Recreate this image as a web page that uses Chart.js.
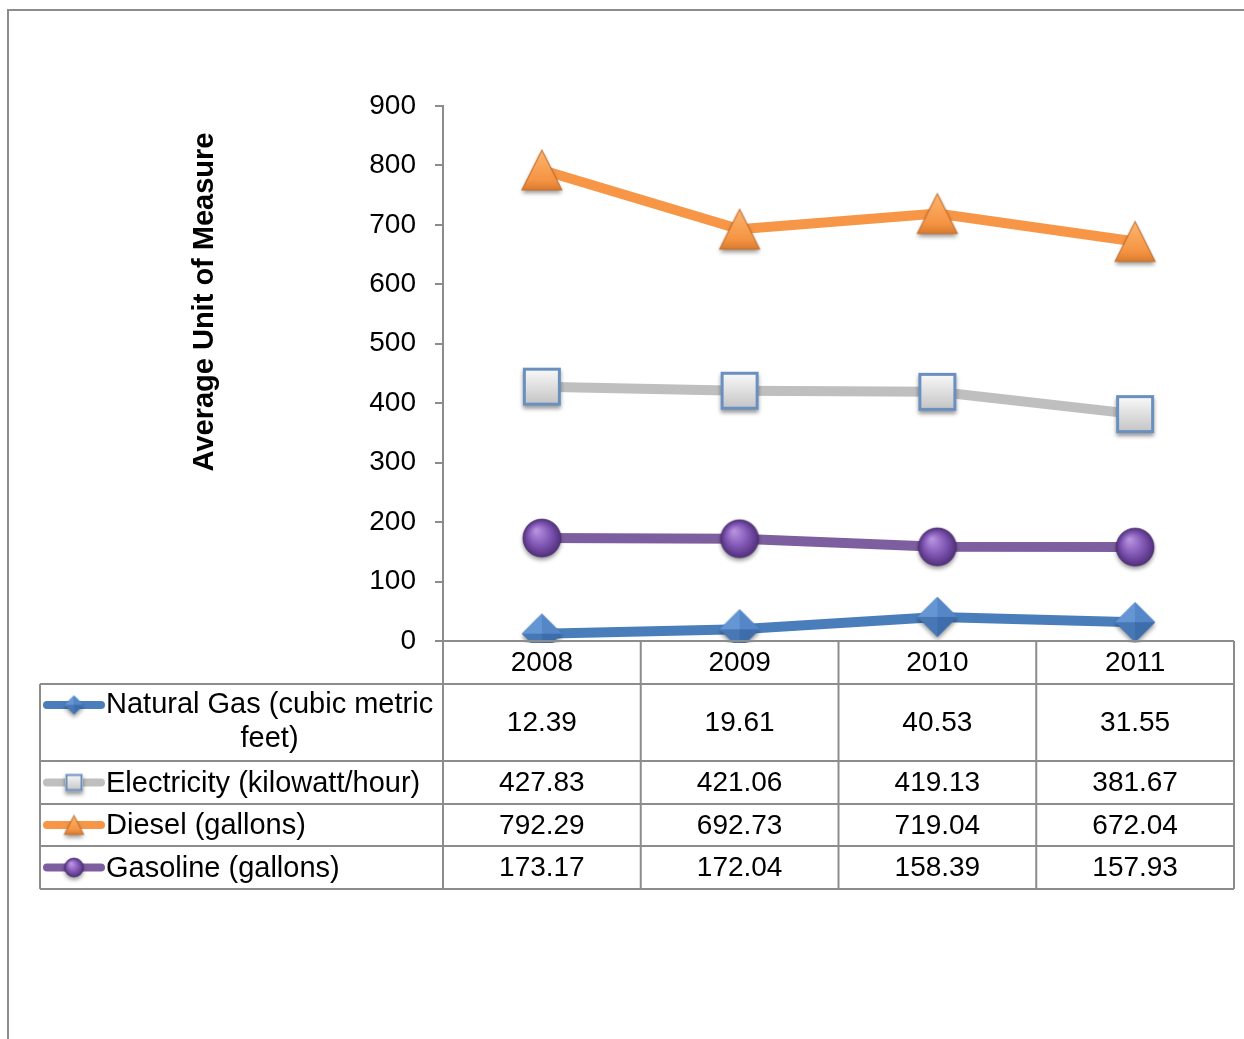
<!DOCTYPE html>
<html>
<head>
<meta charset="utf-8">
<title>Average Unit of Measure</title>
<script src="https://cdn.jsdelivr.net/npm/chart.js@4/dist/chart.umd.min.js"></script>
<style>
  html, body { margin: 0; padding: 0; background: #fff; }
  canvas { display: block; }
</style>
</head>
<body>
<canvas id="chart" width="1244" height="1039"></canvas>
<script>
const years = ["2008", "2009", "2010", "2011"];
const naturalGas = [12.39, 19.61, 40.53, 31.55];
const electricity = [427.83, 421.06, 419.13, 381.67];
const diesel = [792.29, 692.73, 719.04, 672.04];
const gasoline = [173.17, 172.04, 158.39, 157.93];
const yTicks = [0, 100, 200, 300, 400, 500, 600, 700, 800, 900];

const FONT = "'Liberation Sans', Arial, sans-serif";
const GRID = "#8c8c8c";

// marker sprites with a soft drop shadow
function makeMarker(kind, s) {
    const pad = 8;
    const c = document.createElement("canvas");
    c.width = c.height = s + pad * 2;
    const g = c.getContext("2d");
    const m = c.width / 2, h = s / 2;

    g.shadowColor = "rgba(0,0,0,0.4)";
    g.shadowBlur = 4;
    g.shadowOffsetY = 3;

    if (kind === "triangle") {
        const grad = g.createLinearGradient(0, m - h, 0, m + h);
        grad.addColorStop(0, "#fdb56f");
        grad.addColorStop(0.75, "#f59443");
        grad.addColorStop(1, "#d97a2f");
        g.beginPath();
        g.moveTo(m, m - h);
        g.lineTo(m + h, m + h);
        g.lineTo(m - h, m + h);
        g.closePath();
        g.fillStyle = grad;
        g.fill();
        g.shadowColor = "transparent";
        g.strokeStyle = "rgba(190,105,40,0.8)";
        g.lineWidth = 1.2;
        g.stroke();
    } else if (kind === "square") {
        const grad = g.createLinearGradient(0, m - h, 0, m + h);
        grad.addColorStop(0, "#fbfbfb");
        grad.addColorStop(1, "#c2c2c2");
        g.fillStyle = grad;
        g.fillRect(m - h, m - h, s, s);
        g.shadowColor = "transparent";
        g.strokeStyle = "#6a90c0";
        g.lineWidth = s > 20 ? 3 : 2;
        g.strokeRect(m - h + 1.5, m - h + 1.5, s - 3, s - 3);
    } else if (kind === "circle") {
        const grad = g.createRadialGradient(m - s * 0.15, m - s * 0.2, 1, m, m, h);
        grad.addColorStop(0, "#b792df");
        grad.addColorStop(0.55, "#8258b6");
        grad.addColorStop(1, "#52307c");
        g.beginPath();
        g.arc(m, m, h, 0, Math.PI * 2);
        g.fillStyle = grad;
        g.fill();
        g.shadowColor = "transparent";
        g.strokeStyle = "rgba(70,45,100,0.7)";
        g.lineWidth = 1;
        g.stroke();
    } else if (kind === "diamond") {
        g.beginPath();
        g.moveTo(m, m - h);
        g.lineTo(m + h, m);
        g.lineTo(m, m + h);
        g.lineTo(m - h, m);
        g.closePath();
        g.fillStyle = "#4a7cbc";
        g.fill();
        g.shadowColor = "transparent";
        const facets = [
            [[m, m - h], [m - h, m], "#6496d3"],
            [[m, m - h], [m + h, m], "#5587c8"],
            [[m + h, m], [m, m + h], "#3d6dab"],
            [[m, m + h], [m - h, m], "#4877b6"]
        ];
        facets.forEach(f => {
            g.beginPath();
            g.moveTo(m, m);
            g.lineTo(f[0][0], f[0][1]);
            g.lineTo(f[1][0], f[1][1]);
            g.closePath();
            g.fillStyle = f[2];
            g.fill();
        });
    }
    return c;
}

const series = [
    { label: ["Natural Gas (cubic metric", "feet)"], data: naturalGas, color: "#4a7ebb", kind: "diamond", size: 40 },
    { label: ["Electricity (kilowatt/hour)"], data: electricity, color: "#bfbfbf", kind: "square", size: 38 },
    { label: ["Diesel (gallons)"], data: diesel, color: "#f79646", kind: "triangle", size: 40 },
    { label: ["Gasoline (gallons)"], data: gasoline, color: "#7d5fa0", kind: "circle", size: 38 }
];

series.forEach(s => {
    s.marker = makeMarker(s.kind, s.size);
    s.keyMarker = makeMarker(s.kind, s.kind === "square" ? 18 : 19);
});

// row heights of the data table under the plot
const headerH = 43;
const rowH = [77, 43, 42, 43];
const tableLeft = 40;

const frameAndTable = {
    id: "frameAndTable",
    beforeDraw(chart) {
        const ctx = chart.ctx;
        ctx.save();
        ctx.strokeStyle = GRID;
        ctx.lineWidth = 2;
        ctx.beginPath();
        ctx.moveTo(8, chart.height);
        ctx.lineTo(8, 10);
        ctx.lineTo(chart.width, 10);
        ctx.stroke();
        ctx.restore();
    },
    afterDraw(chart) {
        const ctx = chart.ctx;
        const area = chart.chartArea;
        const x = chart.scales.x;
        const colW = (area.right - area.left) / years.length;
        const top = area.bottom;
        const bodyTop = top + headerH;
        let bottom = bodyTop;
        rowH.forEach(h => bottom += h);

        ctx.save();
        ctx.strokeStyle = GRID;
        ctx.lineWidth = 2;
        ctx.beginPath();
        // horizontal rules
        ctx.moveTo(area.left, top);
        ctx.lineTo(area.right, top);
        let y = bodyTop;
        ctx.moveTo(tableLeft, y);
        ctx.lineTo(area.right, y);
        rowH.forEach(h => {
            y += h;
            ctx.moveTo(tableLeft, y);
            ctx.lineTo(area.right, y);
        });
        // vertical rules
        ctx.moveTo(tableLeft, bodyTop);
        ctx.lineTo(tableLeft, bottom);
        for (let i = 0; i <= years.length; i++) {
            const cx = area.left + colW * i;
            ctx.moveTo(cx, top);
            ctx.lineTo(cx, bottom);
        }
        ctx.stroke();

        ctx.fillStyle = "#000";
        ctx.font = "28px " + FONT;
        ctx.textAlign = "center";
        ctx.textBaseline = "middle";
        years.forEach((yr, i) => {
            ctx.fillText(yr, x.getPixelForValue(i), top + headerH / 2 + 1);
        });

        let rowTop = bodyTop;
        series.forEach((s, r) => {
            const mid = rowTop + rowH[r] / 2 + 1;
            ctx.font = "28px " + FONT;
            ctx.textAlign = "center";
            s.data.forEach((v, i) => {
                ctx.fillText(v.toFixed(2), x.getPixelForValue(i), mid);
            });

            // legend key: line with small marker
            const keyY = s.label.length > 1 ? rowTop + 21 : mid - 1;
            ctx.lineCap = "round";
            ctx.lineWidth = 8;
            ctx.strokeStyle = s.color;
            ctx.beginPath();
            ctx.moveTo(47, keyY);
            ctx.lineTo(101, keyY);
            ctx.stroke();
            const km = s.keyMarker;
            ctx.drawImage(km, 74 - km.width / 2, keyY - km.height / 2);

            ctx.font = "29px " + FONT;
            if (s.label.length > 1) {
                const w = ctx.measureText(s.label[0]).width;
                const cx = 106 + w / 2;
                s.label.forEach((line, k) => {
                    ctx.fillText(line, cx, rowTop + 21 + k * 34);
                });
            } else {
                ctx.textAlign = "left";
                ctx.fillText(s.label[0], 106, mid);
            }
            rowTop += rowH[r];
        });

        // vertical axis title
        ctx.translate(205, 302);
        ctx.rotate(-Math.PI / 2);
        ctx.textAlign = "center";
        ctx.font = "bold 29px " + FONT;
        ctx.fillText("Average Unit of Measure", 0, 0);
        ctx.restore();
    }
};

const chart = new Chart(document.getElementById("chart"), {
    type: "line",
    data: {
        labels: years,
        datasets: series.map(s => ({
            label: s.label.join(" "),
            data: s.data,
            borderColor: s.color,
            backgroundColor: s.color,
            borderWidth: 10,
            tension: 0,
            pointStyle: s.marker,
            pointRadius: s.size / 2,
            clip: { left: 40, top: 40, right: 40, bottom: 2 }
        }))
    },
    options: {
        responsive: false,
        devicePixelRatio: 1,
        animation: false,
        events: [],
        layout: {
            autoPadding: false,
            padding: { top: 106, right: 10, bottom: 398, left: 0 }
        },
        plugins: {
            legend: { display: false },
            tooltip: { enabled: false }
        },
        scales: {
            x: {
                display: false,
                offset: true
            },
            y: {
                min: 0,
                max: 900,
                afterBuildTicks(scale) {
                    scale.ticks = yTicks.map(v => ({ value: v }));
                },
                afterFit(scale) {
                    scale.width = 443;
                },
                grid: {
                    drawOnChartArea: false,
                    tickLength: 8,
                    color: GRID,
                    lineWidth: 2
                },
                border: { display: true, color: GRID, width: 2 },
                ticks: {
                    padding: 19,
                    color: "#000",
                    font: { family: FONT, size: 28 }
                }
            }
        }
    },
    plugins: [frameAndTable]
});
</script>
</body>
</html>
